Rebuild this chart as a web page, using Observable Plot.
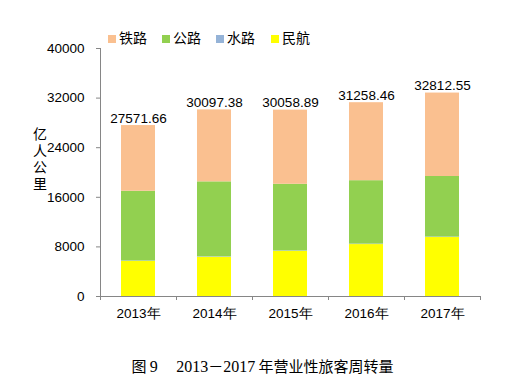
<!DOCTYPE html>
<html>
<head>
<meta charset="utf-8">
<script src="https://cdn.jsdelivr.net/npm/d3@7"></script>
<script src="https://cdn.jsdelivr.net/npm/@observablehq/plot@0.6"></script>
<style>
  body { margin: 0; background: #fff; font-family: "Liberation Sans", Arial, sans-serif; }
  #wrap { position: relative; width: 530px; height: 380px; }
  #wrap svg { position: absolute; left: 0; top: 0; }
  .legend { position: absolute; top: 27px; left: 108px; font: 14px "Noto Sans CJK SC", sans-serif; color: #000; }
  .legend span.item { position: absolute; white-space: nowrap; top: 0; }
  .legend span.sw { display: inline-block; width: 8px; height: 8px; margin-right: 3px; vertical-align: 0px; }
  .ylab { position: absolute; left: 32px; top: 127px; font: 14px "Noto Sans CJK SC", sans-serif; writing-mode: vertical-rl; text-orientation: upright; letter-spacing: 2.5px; line-height: 16px; color: #000; }
  .caption { position: absolute; top: 355px; left: 0; width: 525px; text-align: center; font: 15px "Noto Sans CJK SC", sans-serif; color: #000; }
  .caption .num { font-family: "Liberation Serif", "DejaVu Serif", serif; font-size: 16px; }
</style>
</head>
<body>
<div id="wrap"></div>
<script>
const years = ["2013年", "2014年", "2015年", "2016年", "2017年"];
const modes = ["民航", "水路", "公路", "铁路"];
const rail = [10595.62, 11604.75, 11960.60, 12579.29, 13456.92];
const road = [11250.94, 12084.10, 10742.66, 10228.71, 9765.18];
const water = [68.33, 74.34, 73.08, 72.33, 77.66];
const air = [5656.76, 6334.19, 7282.55, 8378.13, 9513.04];
const totals = [27571.66, 30097.38, 30058.89, 31258.46, 32812.55];
const totalLabels = ["27571.66", "30097.38", "30058.89", "31258.46", "32812.55"];
const yTicks = [0, 8000, 16000, 24000, 32000, 40000];
const colors = {"铁路": "#FAC090", "公路": "#92D050", "水路": "#95B3D7", "民航": "#FFFF00"};
const legendOrder = ["铁路", "公路", "水路", "民航"];

const seriesMap = {"民航": air, "水路": water, "公路": road, "铁路": rail};
const rows = [];
years.forEach((y, i) => {
  modes.forEach(m => rows.push({year: y, mode: m, value: seriesMap[m][i]}));
});
const totalRows = years.map((y, i) => ({year: y, total: totals[i], label: totalLabels[i]}));

const plot = Plot.plot({
  width: 530,
  height: 380,
  marginLeft: 100,
  marginRight: 50,
  marginTop: 48,
  marginBottom: 84,
  style: {fontFamily: "'Liberation Sans', Arial, sans-serif", fontSize: "13px", color: "#000", background: "transparent"},
  x: {domain: years, paddingInner: 0.553, paddingOuter: 0.2765, label: null},
  y: {domain: [0, 40000], label: null},
  color: {domain: modes, range: modes.map(m => colors[m])},
  marks: [
    Plot.barY(rows, Plot.stackY({x: "year", y: "value", fill: "mode", order: modes})),
    Plot.text(totalRows, {x: "year", y: "total", text: "label", lineAnchor: "bottom", dy: -3, fontSize: 13.5, fill: "#000"}),
    Plot.axisY({ticks: yTicks, tickSize: 4, tickPadding: 12, tickFormat: d => String(d), stroke: "#868686", fill: "#000", fontSize: 13.5, label: null}),
    Plot.axisX({tickSize: 0, tickPadding: 12, fontSize: 13.5, fill: "#000", label: null})
  ]
});
document.getElementById("wrap").appendChild(plot);

// Axis lines and category boundary ticks, positioned from the scales
const svg = d3.select(plot);
const xs = plot.scale("x");
const ys = plot.scale("y");
const step = xs.step;
const xStart = xs.apply(years[0]) + xs.bandwidth / 2 - step / 2;
const xEnd = xStart + step * years.length;
const y0 = ys.apply(0), yTop = ys.apply(40000);
const g = svg.append("g").attr("stroke", "#868686").attr("shape-rendering", "crispEdges");
g.append("line").attr("x1", xStart).attr("x2", xStart).attr("y1", yTop).attr("y2", y0);
g.append("line").attr("x1", xStart).attr("x2", xEnd).attr("y1", y0).attr("y2", y0);
for (let k = 0; k <= years.length; k++) {
  const xx = xStart + k * step;
  g.append("line").attr("x1", xx).attr("x2", xx).attr("y1", y0).attr("y2", y0 + 4);
}

// Legend
const leg = document.createElement("div");
leg.className = "legend";
const legX = [0, 54, 108, 163];
legendOrder.forEach((m, i) => {
  const s = document.createElement("span");
  s.className = "item";
  s.style.left = legX[i] + "px";
  s.innerHTML = `<span class="sw" style="background:${colors[m]}"></span>${m}`;
  leg.appendChild(s);
});
document.getElementById("wrap").appendChild(leg);

const yl = document.createElement("div");
yl.className = "ylab";
yl.textContent = "亿人公里";
document.getElementById("wrap").appendChild(yl);

const cap = document.createElement("div");
cap.className = "caption";
cap.innerHTML = '图 <span class="num">9</span>　 <span class="num">2013</span>－<span class="num">2017</span> 年营业性旅客周转量';
document.getElementById("wrap").appendChild(cap);
</script>
</body>
</html>
